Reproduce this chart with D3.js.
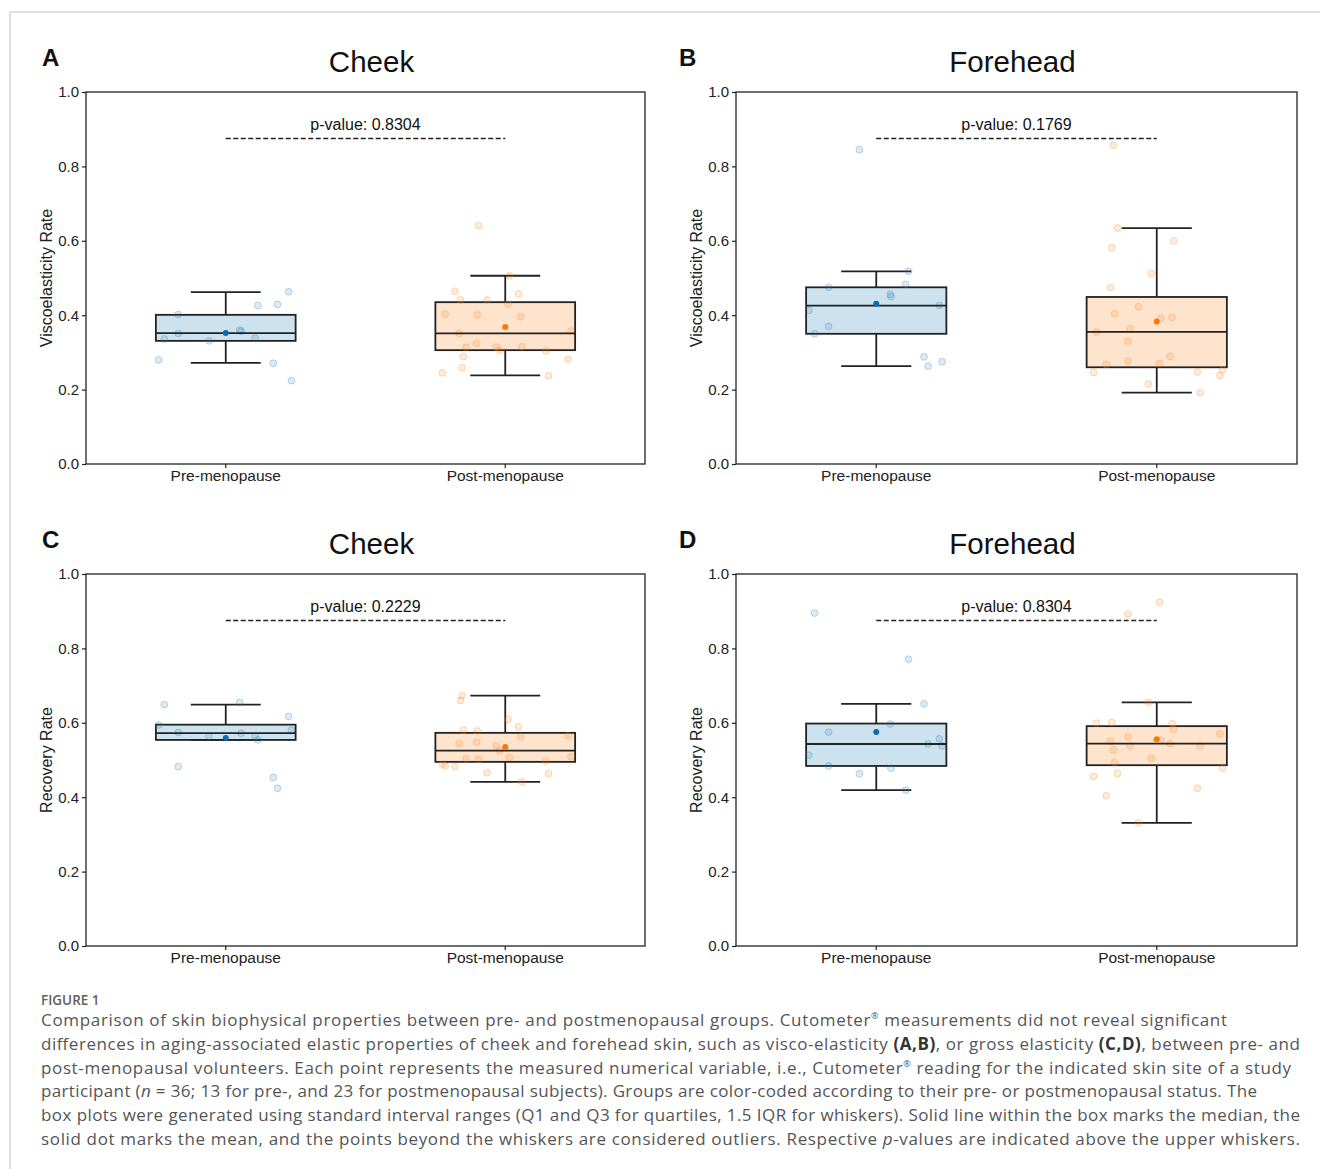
<!DOCTYPE html>
<html>
<head>
<meta charset="utf-8">
<script src="https://cdn.jsdelivr.net/npm/d3@7"></script>
<style>
  body { margin: 0; background: #fff; }
  svg text { font-family: "Liberation Sans", Arial, sans-serif; }
  .axis text { fill: #222; }
  .axis line { stroke: #222; stroke-width: 1.2px; }
  .caption text { font-family: "Open Sans", "Noto Sans", sans-serif; }
</style>
</head>
<body>
<div id="chart"></div>
<script>
// ---------------- data ----------------
const groups = ["Pre-menopause", "Post-menopause"];
const panelLetters = ["A", "B", "C", "D"];
const panelTitles = ["Cheek", "Forehead", "Cheek", "Forehead"];
const yLabels = ["Viscoelasticity Rate", "Viscoelasticity Rate", "Recovery Rate", "Recovery Rate"];
const pValues = ["0.8304", "0.1769", "0.2229", "0.8304"];
const pLineLevel = 0.875;
const yTicks = [0.0, 0.2, 0.4, 0.6, 0.8, 1.0];

// measured values per subject, jitter = horizontal offset as a fraction of box width
const cheekViscoPre = [0.463, 0.426, 0.429, 0.402, 0.351, 0.360, 0.357, 0.336, 0.331, 0.338, 0.280, 0.271, 0.224];
const cheekViscoPreJitter = [0.45, 0.23, 0.37, -0.34, -0.34, 0.10, 0.11, -0.44, -0.12, 0.21, -0.48, 0.34, 0.47];
const cheekViscoPost = [0.641, 0.506, 0.464, 0.457, 0.441, 0.441, 0.430, 0.402, 0.401, 0.396, 0.358, 0.351, 0.324,
  0.314, 0.314, 0.306, 0.315, 0.304, 0.289, 0.281, 0.259, 0.245, 0.237];
const cheekViscoPostJitter = [-0.19, 0.03, -0.36, 0.095, -0.32, -0.13, 0.02, -0.43, -0.20, 0.11, 0.47, -0.33, -0.205,
  -0.28, -0.065, -0.04, 0.12, 0.29, -0.30, 0.45, -0.31, -0.45, 0.31];

const foreheadViscoPre = [0.845, 0.518, 0.483, 0.475, 0.456, 0.450, 0.413, 0.426, 0.370, 0.350, 0.288, 0.275, 0.263];
const foreheadViscoPreJitter = [-0.12, 0.23, 0.21, -0.34, 0.10, 0.105, -0.48, 0.45, -0.34, -0.44, 0.34, 0.47, 0.37];
const foreheadViscoPost = [0.857, 0.634, 0.600, 0.581, 0.512, 0.474, 0.423, 0.404, 0.394, 0.392, 0.363, 0.355, 0.330,
  0.289, 0.277, 0.270, 0.267, 0.246, 0.247, 0.253, 0.238, 0.215, 0.192];
const foreheadViscoPostJitter = [-0.31, -0.28, 0.12, -0.32, -0.04, -0.33, -0.13, -0.30, 0.11, 0.03, -0.19, -0.43, -0.205,
  0.095, -0.205, 0.02, -0.36, -0.45, 0.29, 0.47, 0.45, -0.06, 0.31];

const cheekRecovPre = [0.649, 0.655, 0.617, 0.594, 0.580, 0.574, 0.572, 0.564, 0.564, 0.554, 0.482, 0.453, 0.424];
const cheekRecovPreJitter = [-0.44, 0.10, 0.45, -0.48, 0.47, -0.34, 0.11, -0.12, 0.21, 0.23, -0.34, 0.34, 0.37];
const cheekRecovPost = [0.673, 0.660, 0.609, 0.589, 0.580, 0.578, 0.562, 0.565, 0.544, 0.548, 0.538, 0.525, 0.503,
  0.502, 0.507, 0.509, 0.497, 0.489, 0.484, 0.482, 0.466, 0.463, 0.441];
const cheekRecovPostJitter = [-0.31, -0.32, 0.02, 0.095, -0.30, -0.20, 0.11, 0.45, -0.33, -0.205, -0.065, -0.04, -0.28,
  -0.19, 0.03, 0.47, 0.29, -0.45, -0.43, -0.36, -0.13, 0.31, 0.12];

const foreheadRecovPre = [0.895, 0.771, 0.651, 0.597, 0.575, 0.557, 0.543, 0.538, 0.513, 0.484, 0.478, 0.463, 0.419];
const foreheadRecovPreJitter = [-0.44, 0.23, 0.34, 0.10, -0.34, 0.45, 0.37, 0.47, -0.48, -0.34, 0.105, -0.12, 0.21];
const foreheadRecovPost = [0.924, 0.892, 0.655, 0.599, 0.601, 0.598, 0.583, 0.570, 0.562, 0.553, 0.550, 0.544, 0.538,
  0.538, 0.527, 0.505, 0.493, 0.478, 0.456, 0.464, 0.424, 0.404, 0.331];
const foreheadRecovPostJitter = [0.02, -0.205, -0.06, -0.43, -0.32, 0.11, 0.12, 0.45, -0.205, 0.03, -0.33, 0.095, -0.19,
  0.31, -0.31, -0.04, -0.30, 0.47, -0.45, -0.28, 0.29, -0.36, -0.13];

// box statistics: [lower whisker, Q1, median, Q3, upper whisker, mean]
const cheekViscoPreBox = [0.272, 0.331, 0.352, 0.401, 0.462, 0.352];
const cheekViscoPostBox = [0.238, 0.306, 0.351, 0.435, 0.506, 0.368];
const foreheadViscoPreBox = [0.263, 0.350, 0.426, 0.475, 0.518, 0.431];
const foreheadViscoPostBox = [0.192, 0.260, 0.355, 0.449, 0.634, 0.383];
const cheekRecovPreBox = [0.554, 0.554, 0.572, 0.595, 0.649, 0.559];
const cheekRecovPostBox = [0.441, 0.495, 0.525, 0.573, 0.673, 0.535];
const foreheadRecovPreBox = [0.419, 0.484, 0.543, 0.598, 0.651, 0.575];
const foreheadRecovPostBox = [0.331, 0.486, 0.544, 0.591, 0.655, 0.556];

// ---------------- layout ----------------
const W = 1320, H = 1169;
const colors = {
  pre: { point: "#1f77b4", box: "#cce3ef", mean: "#0f6aab" },
  post: { point: "#ff7f0e", box: "#fee3cd", mean: "#ff7700" }
};

const panels = [
  { x: 86, y: 92, w: 559, letterX: 42, titleShift: 6, pre: [cheekViscoPre, cheekViscoPreJitter, cheekViscoPreBox], post: [cheekViscoPost, cheekViscoPostJitter, cheekViscoPostBox] },
  { x: 736, y: 92, w: 561, letterX: 679, titleShift: -4, pre: [foreheadViscoPre, foreheadViscoPreJitter, foreheadViscoPreBox], post: [foreheadViscoPost, foreheadViscoPostJitter, foreheadViscoPostBox] },
  { x: 86, y: 574, w: 559, letterX: 42, titleShift: 6, pre: [cheekRecovPre, cheekRecovPreJitter, cheekRecovPreBox], post: [cheekRecovPost, cheekRecovPostJitter, cheekRecovPostBox] },
  { x: 736, y: 574, w: 561, letterX: 679, titleShift: -4, pre: [foreheadRecovPre, foreheadRecovPreJitter, foreheadRecovPreBox], post: [foreheadRecovPost, foreheadRecovPostJitter, foreheadRecovPostBox] }
];
const plotH = 372;

const svg = d3.select("#chart").append("svg")
  .attr("width", W).attr("height", H);

// page frame (light grey border at top and left)
svg.append("line").attr("x1", 10).attr("x2", W).attr("y1", 12).attr("y2", 12)
  .attr("stroke", "#d4d4d4").attr("stroke-width", 1.5);
svg.append("line").attr("x1", 10).attr("x2", 10).attr("y1", 12).attr("y2", H)
  .attr("stroke", "#d4d4d4").attr("stroke-width", 1.5);

panels.forEach((p, i) => {
  const g = svg.append("g").attr("transform", "translate(" + p.x + "," + p.y + ")");

  const xScale = d3.scaleBand().domain(groups).range([0, p.w])
    .paddingInner(0.5).paddingOuter(0.25);
  const yScale = d3.scaleLinear().domain([0, 1]).range([plotH, 0]);
  const bw = xScale.bandwidth();

  // panel letter and title
  svg.append("text")
    .attr("x", p.letterX).attr("y", p.y - 26)
    .style("font-size", "24px").style("font-weight", "bold").attr("fill", "#111")
    .text(panelLetters[i]);
  g.append("text")
    .attr("x", p.w / 2 + p.titleShift).attr("y", -20)
    .attr("text-anchor", "middle")
    .style("font-size", "29.5px").attr("fill", "#111")
    .text(panelTitles[i]);

  // y axis label
  g.append("text")
    .attr("transform", "rotate(-90)")
    .attr("x", -plotH / 2).attr("y", -34)
    .attr("text-anchor", "middle")
    .style("font-size", "16px").attr("fill", "#222")
    .text(yLabels[i]);

  // boxes
  [["pre", p.pre], ["post", p.post]].forEach(([key, [vals, jit, st]], gi) => {
    const cx = xScale(groups[gi]) + bw / 2;
    const c = colors[key];
    const [lo, q1, med, q3, hi, mean] = st;
    const bg = g.append("g");

    bg.append("line").attr("x1", cx).attr("x2", cx)
      .attr("y1", yScale(q3)).attr("y2", yScale(hi))
      .attr("stroke", "#222").attr("stroke-width", 1.8);
    bg.append("line").attr("x1", cx).attr("x2", cx)
      .attr("y1", yScale(q1)).attr("y2", yScale(lo))
      .attr("stroke", "#222").attr("stroke-width", 1.8);
    [lo, hi].forEach(v => {
      bg.append("line").attr("x1", cx - bw / 4).attr("x2", cx + bw / 4)
        .attr("y1", yScale(v)).attr("y2", yScale(v))
        .attr("stroke", "#222").attr("stroke-width", 1.8);
    });
    bg.append("rect")
      .attr("x", cx - bw / 2).attr("width", bw)
      .attr("y", yScale(q3)).attr("height", yScale(q1) - yScale(q3))
      .attr("fill", c.box).attr("stroke", "#222").attr("stroke-width", 1.8);

    // individual points
    bg.selectAll("circle.pt")
      .data(vals.map((v, k) => ({ v: v, j: jit[k] })))
      .enter().append("circle")
      .attr("class", "pt")
      .attr("cx", d => cx + d.j * bw)
      .attr("cy", d => yScale(d.v))
      .attr("r", 3.4)
      .attr("fill", c.point).attr("fill-opacity", 0.15)
      .attr("stroke", c.point).attr("stroke-opacity", 0.28).attr("stroke-width", 1);

    bg.append("line").attr("x1", cx - bw / 2).attr("x2", cx + bw / 2)
      .attr("y1", yScale(med)).attr("y2", yScale(med))
      .attr("stroke", "#222").attr("stroke-width", 1.8);
    bg.append("circle")
      .attr("cx", cx).attr("cy", yScale(mean)).attr("r", 3)
      .attr("fill", c.mean);
  });

  // p-value annotation
  const xa = xScale(groups[0]) + bw / 2, xb = xScale(groups[1]) + bw / 2;
  g.append("line")
    .attr("x1", xa).attr("x2", xb)
    .attr("y1", yScale(pLineLevel)).attr("y2", yScale(pLineLevel))
    .attr("stroke", "#222").attr("stroke-width", 1.4)
    .attr("stroke-dasharray", "5,2.5");
  g.append("text")
    .attr("x", (xa + xb) / 2).attr("y", yScale(pLineLevel) - 9)
    .attr("text-anchor", "middle")
    .style("font-size", "16px").attr("fill", "#111")
    .text("p-value: " + pValues[i]);

  // axes
  g.append("g").attr("class", "axis")
    .style("font-size", "15px")
    .call(d3.axisLeft(yScale).tickValues(yTicks).tickFormat(d3.format(".1f")).tickSize(4).tickPadding(3))
    .call(a => a.select(".domain").remove())
    .call(a => a.selectAll("text").style("font-size", "15px"));
  g.append("g").attr("class", "axis")
    .attr("transform", "translate(0," + plotH + ")")
    .call(d3.axisBottom(xScale).tickSize(4).tickPadding(2))
    .call(a => a.select(".domain").remove())
    .call(a => a.selectAll("text").style("font-size", "15.5px"));

  g.append("rect")
    .attr("width", p.w).attr("height", plotH)
    .attr("fill", "none").attr("stroke", "#222").attr("stroke-width", 1.3);
});

// ---------------- caption ----------------
const cap = svg.append("g").attr("class", "caption");
cap.append("text")
  .attr("x", 41).attr("y", 1005)
  .style("font-size", "13.5px").style("font-weight", "600").attr("fill", "#606060")
  .text("FIGURE 1");

const captionLines = [
  { end: 1227, parts: [["Comparison of skin biophysical properties between pre- and postmenopausal groups. Cutometer"], ["®", "sup"], [" measurements did not reveal significant", "after"]] },
  { end: 1300, parts: [["differences in aging-associated elastic properties of cheek and forehead skin, such as visco-elasticity "], ["(A,B)", "b"], [", or gross elasticity "], ["(C,D)", "b"], [", between pre- and"]] },
  { end: 1291, parts: [["post-menopausal volunteers. Each point represents the measured numerical variable, i.e., Cutometer"], ["®", "sup"], [" reading for the indicated skin site of a study", "after"]] },
  { end: 1257, parts: [["participant ("], ["n", "i"], [" = 36; 13 for pre-, and 23 for postmenopausal subjects). Groups are color-coded according to their pre- or postmenopausal status. The"]] },
  { end: 1300, parts: [["box plots were generated using standard interval ranges (Q1 and Q3 for quartiles, 1.5 IQR for whiskers). Solid line within the box marks the median, the"]] },
  { end: 1300, parts: [["solid dot marks the mean, and the points beyond the whiskers are considered outliers. Respective "], ["p", "i"], ["-values are indicated above the upper whiskers."]] }
];

captionLines.forEach((line, k) => {
  const t = cap.append("text")
    .attr("x", 41).attr("y", 1026 + k * 23.8)
    .style("font-size", "17px").attr("fill", "#555")
    .attr("textLength", line.end - 41).attr("lengthAdjust", "spacing");
  line.parts.forEach(([s, kind]) => {
    const ts = t.append("tspan").text(s);
    if (kind === "b") ts.style("font-weight", "bold").attr("fill", "#333");
    if (kind === "i") ts.style("font-style", "italic");
    if (kind === "sup") ts.style("font-size", "9px").attr("dy", -7);
    if (kind === "after") ts.attr("dy", 7);
  });
});
</script>
</body>
</html>
